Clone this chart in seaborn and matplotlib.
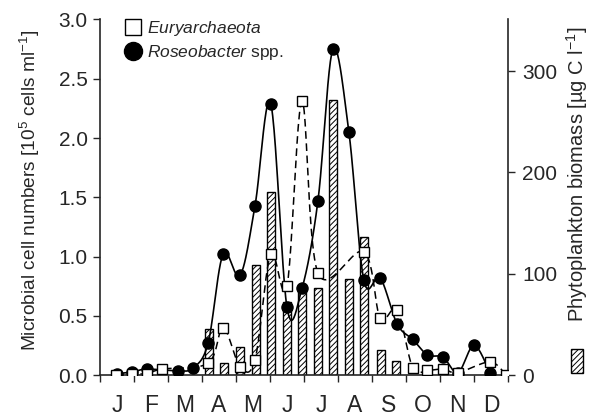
import numpy as np
import pandas as pd
import matplotlib
matplotlib.use("Agg")
import matplotlib.pyplot as plt
from matplotlib.lines import Line2D
from matplotlib.patches import Patch
import seaborn as sns

# sampling dates in fractional months (0 = 1 Jan)
eury_month = [0.47, 0.94, 1.38, 1.82, 3.18, 3.62, 4.12, 4.56, 5.02, 5.50, 5.94, 6.41,
              7.76, 8.24, 8.74, 9.20, 9.63, 10.09, 10.53, 11.47, 11.94]
eury_cells = [0.00, 0.01, 0.01, 0.05, 0.10, 0.40, 0.07, 0.13, 1.02, 0.75, 2.31, 0.86,
              1.04, 0.48, 0.55, 0.06, 0.04, 0.05, 0.02, 0.11, 0.00]

roseo_month = [0.50, 0.94, 1.38, 2.29, 2.74, 3.18, 3.62, 4.12, 4.56, 5.02, 5.50, 5.94,
               6.41, 6.85, 7.32, 7.76, 8.24, 8.74, 9.20, 9.63, 10.09, 10.53, 11.00, 11.47]
roseo_cells = [0.01, 0.025, 0.05, 0.035, 0.06, 0.27, 1.02, 0.84, 1.43, 2.29, 0.57, 0.73,
               1.47, 2.75, 2.05, 0.80, 0.82, 0.43, 0.30, 0.17, 0.15, 0.02, 0.25, 0.02]

phyto_month = [3.21, 3.65, 4.12, 4.59, 5.03, 5.50, 5.94, 6.41, 6.85, 7.32, 7.76, 8.26, 8.71]
phyto_biomass = [45, 12, 28, 109, 181, 72, 84, 86, 272, 95, 136, 25, 14]

month_labels = ["J", "F", "M", "A", "M", "J", "J", "A", "S", "O", "N", "D"]


def smooth(x, y, n=24):
    # Catmull-Rom curve through the points, used only for drawing the line
    p = np.column_stack([x, y]).astype(float)
    p = np.vstack([p[0], p, p[-1]])
    t = np.linspace(0, 1, n, endpoint=False)[:, None]
    segs = []
    for i in range(1, len(p) - 2):
        p0, p1, p2, p3 = p[i - 1], p[i], p[i + 1], p[i + 2]
        segs.append(0.5 * (2 * p1 + (-p0 + p2) * t
                           + (2 * p0 - 5 * p1 + 4 * p2 - p3) * t ** 2
                           + (-p0 + 3 * p1 - 3 * p2 + p3) * t ** 3))
    segs.append(p[-2][None])
    s = np.vstack(segs)
    return s[:, 0], s[:, 1]


sns.set_style("ticks")
plt.rcParams["font.family"] = ["Liberation Sans", "DejaVu Sans"]
plt.rcParams["mathtext.fontset"] = "custom"
plt.rcParams["mathtext.rm"] = "Liberation Sans"
plt.rcParams["mathtext.it"] = "Liberation Sans:italic"
plt.rcParams["hatch.linewidth"] = 0.7

fig = plt.figure(figsize=(5.92, 4.19), dpi=100)
ax = fig.add_axes([100 / 592, 1 - 375 / 419, 408 / 592, 355.5 / 419])
ax2 = ax.twinx()
ax.set_zorder(ax2.get_zorder() + 1)
ax.patch.set_visible(False)

# phytoplankton bars on the right axis
bars = pd.DataFrame({"month": phyto_month, "biomass": phyto_biomass})
sns.barplot(data=bars, x="month", y="biomass", native_scale=True, width=0.57,
            color="white", edgecolor="black", linewidth=1.0, hatch="//////",
            errorbar=None, ax=ax2)
for p in ax2.patches:
    p.set_facecolor("white")

# Roseobacter: solid smoothed line with filled circles
rx, ry = smooth(roseo_month, roseo_cells)
sns.lineplot(x=rx, y=ry, sort=False, color="black", linewidth=1.2, ax=ax, estimator=None)
ax.plot(roseo_month, roseo_cells, "o", color="black", markersize=8, zorder=3)

# Euryarchaeota: dashed smoothed line with open squares
ex, ey = smooth(eury_month, eury_cells)
ax.plot(ex, ey, color="black", linewidth=1.1, linestyle=(0, (5, 3)), zorder=2)
ax.plot(eury_month, eury_cells, "s", markerfacecolor="white", markeredgecolor="black",
        markeredgewidth=1.0, markersize=6.5, zorder=4)

ax.set_xlim(0, 12)
ax.set_ylim(0, 3.0)
ax2.set_ylim(0, 351)

ax.set_xticks(np.arange(0, 13))
ax.set_xticklabels([])
ax.set_xticks(np.arange(0.5, 12), minor=True)
ax.set_xticklabels(month_labels, minor=True, fontsize=16.5)
ax.tick_params(axis="x", which="major", direction="out", length=5, width=1)
ax.tick_params(axis="x", which="minor", length=0, pad=14)
ax.set_xlabel("")
ax2.tick_params(axis="x", which="both", bottom=False, top=False,
                labelbottom=False, labeltop=False)

ax.set_yticks(np.arange(0, 3.01, 0.5))
ax.set_yticklabels([f"{v:.1f}" for v in np.arange(0, 3.01, 0.5)], fontsize=15)
ax.tick_params(axis="y", direction="out", length=5, width=1, pad=4)
ax2.set_yticks([0, 100, 200, 300])
ax2.set_yticklabels(["0", "100", "200", "300"], fontsize=15)
ax2.tick_params(axis="y", direction="out", length=5, width=1, pad=5)
ax2.set_xlabel("")

for a in (ax, ax2):
    a.spines["top"].set_visible(False)
    for s in ("left", "right", "bottom"):
        a.spines[s].set_linewidth(1.2)
ax.spines["right"].set_visible(False)
ax2.spines["left"].set_visible(False)
ax2.spines["bottom"].set_visible(False)

ax.set_ylabel(r"Microbial cell numbers [10$^{5}$ cells ml$^{-1}$]", fontsize=13.8)
ax.yaxis.set_label_coords(-0.142, 0.52)
ax2.set_ylabel(r"Phytoplankton biomass [µg C l$^{-1}$]", fontsize=14.5, rotation=90)
ax2.yaxis.set_label_coords(1.138, 0.565)

handles = [
    Line2D([], [], marker="s", linestyle="none", markerfacecolor="white",
           markeredgecolor="black", markersize=11),
    Line2D([], [], marker="o", linestyle="none", color="black", markersize=13),
]
ax.legend(handles, [r"$\it{Euryarchaeota}$", r"$\it{Roseobacter}$ spp."],
          loc="upper left", bbox_to_anchor=(0.035, 1.025), frameon=False,
          fontsize=12.5, handletextpad=0.2, labelspacing=0.25, borderpad=0,
          handlelength=1.2)

fig.legend([Patch(facecolor="white", edgecolor="black", hatch="//////")], [""],
           loc="center", bbox_to_anchor=(577 / 592, 1 - 361 / 419), frameon=False,
           handlelength=0.66, handleheight=1.7, handletextpad=0, borderpad=0,
           fontsize=12.5)

fig.savefig("out.png", dpi=100)
